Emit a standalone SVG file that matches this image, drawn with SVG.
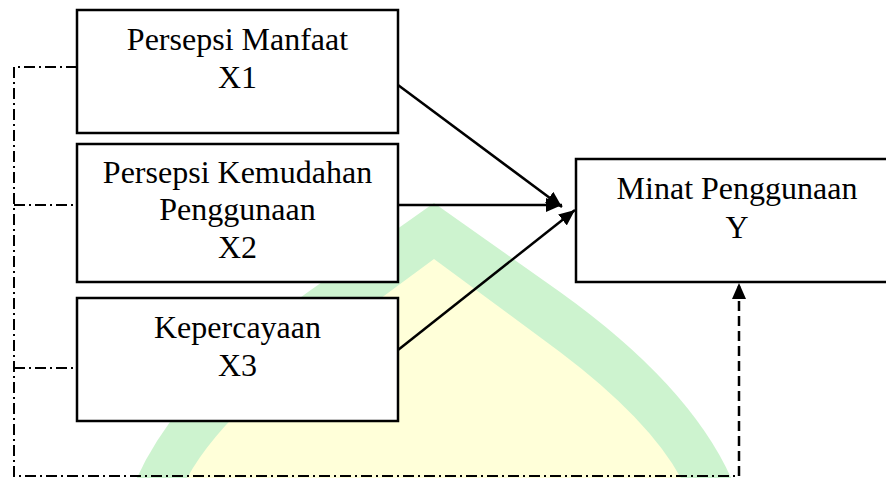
<svg xmlns="http://www.w3.org/2000/svg" width="886" height="478" viewBox="0 0 886 478">
  <style>
    .box { fill: #ffffff; stroke: #000000; stroke-width: 2.5; }
    .lbl { font-family: "Liberation Serif", "Times New Roman", serif; font-size: 32px; fill: #000000; text-anchor: middle; }
    .solid { fill: none; stroke: #000000; stroke-width: 2.5; }
    .dashdot { fill: none; stroke: #000000; stroke-width: 2; stroke-dasharray: 11 4 2 4; }
    .dashed { fill: none; stroke: #000000; stroke-width: 2.5; stroke-dasharray: 10 5; }
  </style>
  <defs>
    <marker id="arrow" viewBox="0 0 16 14" refX="16" refY="7" markerWidth="16" markerHeight="14" markerUnits="userSpaceOnUse" orient="auto">
      <path d="M0,0 L16,7 L0,14 z" fill="#000000"/>
    </marker>
  </defs>
  <rect width="886" height="478" fill="#ffffff"/>
  <g id="watermark">
    <path d="M434,203 L560,292 Q690,385 732,480 L136,480 Q178,385 308,292 Z" fill="#cdf3cf"/>
    <path d="M434,259 L560,352 Q650,420 682,480 L186,480 Q218,420 308,352 Z" fill="#ffffd9"/>
  </g>
  <g id="connectors">
    <polyline class="dashdot" points="77,67 14,67 14,476 739,476"/>
    <line class="dashdot" x1="14" y1="205" x2="77" y2="205"/>
    <line class="dashdot" x1="14" y1="368" x2="77" y2="368"/>
    <line class="dashed" x1="739" y1="476" x2="739" y2="283" marker-end="url(#arrow)"/>
    <line class="solid" x1="398" y1="85" x2="562" y2="207" marker-end="url(#arrow)"/>
    <line class="solid" x1="398" y1="205" x2="562" y2="205" marker-end="url(#arrow)"/>
    <line class="solid" x1="398" y1="350" x2="575" y2="210" marker-end="url(#arrow)"/>
  </g>
  <g id="node-x1">
    <rect class="box" x="77" y="10" width="321" height="123"/>
    <text class="lbl" x="237.5" y="50">Persepsi Manfaat</text>
    <text class="lbl" x="237.5" y="88">X1</text>
  </g>
  <g id="node-x2">
    <rect class="box" x="77" y="144" width="321" height="138"/>
    <text class="lbl" x="237.5" y="183">Persepsi Kemudahan</text>
    <text class="lbl" x="237.5" y="220">Penggunaan</text>
    <text class="lbl" x="237.5" y="258">X2</text>
  </g>
  <g id="node-x3">
    <rect class="box" x="77" y="298" width="321" height="123"/>
    <text class="lbl" x="237.5" y="338">Kepercayaan</text>
    <text class="lbl" x="237.5" y="376">X3</text>
  </g>
  <g id="node-y">
    <rect class="box" x="576" y="159" width="322" height="123"/>
    <text class="lbl" x="737" y="199">Minat Penggunaan</text>
    <text class="lbl" x="737" y="238">Y</text>
  </g>
</svg>
